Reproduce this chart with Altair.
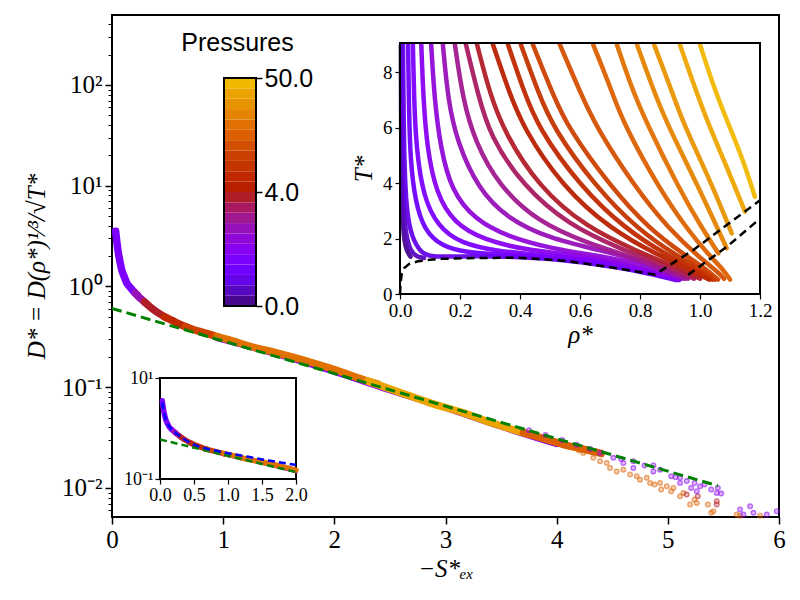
import altair as alt
import pandas as pd

SERIF = "Liberation Serif"
SANS = "Liberation Sans"

# ---------------- colour bands of the pressure colour bar (bottom -> top) -------------
BAND_COLORS = ["#4a0890", "#5808c0", "#6404e8", "#7000ff", "#7c00ff", "#8800f0",
               "#9008d8", "#9810b8", "#a01890", "#a81a60", "#b01e28", "#b82000",
               "#c02800", "#c43400", "#cc4000", "#d45000", "#dc6000", "#e07000",
               "#e48400", "#e89400", "#eca400", "#f0b800"]
BANDS = list(range(len(BAND_COLORS)))
CBAR_TICK_POS = [0, 11, 22]
CBAR_TICK_LABELS = ["0.0", "4.0", "50.0"]

# ---------------- main panel: master curve, drawn in coloured pieces -----------------
SEG_A_X = [0.033, 0.045, 0.057, 0.07, 0.087, 0.11, 0.132, 0.16, 0.192, 0.23]
SEG_A_Y = [3.54, 2.7, 2.16, 1.8, 1.47, 1.25, 1.09, 0.99, 0.90, 0.82]
SEG_B_X = [0.21, 0.24, 0.267, 0.30]
SEG_B_Y = [0.86, 0.79, 0.743, 0.69]
SEG_C_X = [0.29, 0.33, 0.372, 0.43, 0.492]
SEG_C_Y = [0.705, 0.645, 0.591, 0.535, 0.489]
SEG_D_X = [0.47, 0.55, 0.612, 0.68]
SEG_D_Y = [0.50, 0.455, 0.42, 0.39]
SEG_E_X = [0.66, 0.731, 0.81, 0.881, 0.96]
SEG_E_Y = [0.40, 0.374, 0.353, 0.334, 0.313]
SEG_F_X = [0.94, 1.061, 1.241, 1.481, 1.78, 2.0, 2.26, 2.4]
SEG_F_Y = [0.318, 0.293, 0.255, 0.219, 0.178, 0.15, 0.119, 0.107]
SEG_G_X = [2.3, 2.56, 2.86, 3.16, 3.46, 3.76]
SEG_G_Y = [0.115, 0.0912, 0.070, 0.0557, 0.0426, 0.0339]
SEG_H_X = [3.7, 3.9, 4.06, 4.25, 4.4]
SEG_H_Y = [0.0355, 0.0305, 0.027, 0.0242, 0.022]
EDGE_X = [0.95, 1.5, 2.0, 2.5, 3.0, 3.5, 4.0]
EDGE_Y = [0.305, 0.209, 0.142, 0.093, 0.0625, 0.0405, 0.0272]
SEGMENTS = [("A", 4, SEG_A_X, SEG_A_Y), ("B", 7, SEG_B_X, SEG_B_Y),
            ("C", 10, SEG_C_X, SEG_C_Y), ("D", 12, SEG_D_X, SEG_D_Y),
            ("E", 14, SEG_E_X, SEG_E_Y), ("F", 17, SEG_F_X, SEG_F_Y),
            ("G", 20, SEG_G_X, SEG_G_Y), ("H", 16, SEG_H_X, SEG_H_Y)]

# scattered tail points
TAIL_PURPLE_X = [3.75, 3.9, 4.05, 4.18, 4.30, 4.39, 4.51, 4.58, 4.60, 4.69, 4.69, 4.79,
                 4.87, 4.87, 4.93, 5.03, 5.07, 5.11, 5.11, 5.17, 5.21, 5.24, 5.26, 5.29,
                 5.33, 5.39, 5.44, 5.45, 5.48, 5.65, 5.68, 5.74, 5.77, 5.89, 5.98]
TAIL_PURPLE_Y = [0.0375, 0.0335, 0.0300, 0.0268, 0.0244, 0.0223, 0.0199, 0.0194, 0.0177,
                 0.0184, 0.0158, 0.0167, 0.0146, 0.0167, 0.0152, 0.0131, 0.0128, 0.0126,
                 0.0112, 0.0117, 0.0100, 0.0112, 0.00927, 0.0104, 0.0108, 0.00964,
                 0.00893, 0.0100, 0.00879, 0.00611, 0.00544, 0.00658, 0.00566, 0.00544,
                 0.00587]
TAIL_RED_X = [5.17, 5.27, 5.44, 5.44]
TAIL_RED_Y = [0.00859, 0.00828, 0.00738, 0.00685]
TAIL_ORANGE_X = [3.95, 4.05, 4.12, 4.2, 4.24, 4.33, 4.39, 4.45, 4.48, 4.54, 4.60, 4.66,
                 4.72, 4.75, 4.81, 4.84, 4.88, 4.93, 4.94, 4.99, 5.03, 5.05, 5.11, 5.14,
                 5.20, 5.24, 5.26, 5.36, 5.41, 5.39, 5.62, 5.65, 5.83]
TAIL_ORANGE_Y = [0.0295, 0.027, 0.0255, 0.0235, 0.0223, 0.0199, 0.0184, 0.0177, 0.0158,
                 0.0146, 0.0152, 0.0136, 0.0131, 0.0121, 0.0126, 0.0112, 0.0108, 0.0112,
                 0.00964, 0.0104, 0.00927, 0.0100, 0.00828, 0.00893, 0.00685, 0.00767,
                 0.00711, 0.00685, 0.00587, 0.00566, 0.00544, 0.0053, 0.0053]

GREEN_X = [0.0, 5.45]
GREEN_Y = [0.605, 0.0105]
GREEN_BL_X = [0.0, 2.0]
GREEN_BL_Y = [0.605, 0.137]
BLUE_X = [0.035, 0.06, 0.1, 0.16, 0.25, 0.35, 0.47, 0.6, 0.8, 1.0, 1.3, 1.6, 2.0]
BLUE_Y = [3.3, 2.05, 1.35, 1.0, 0.78, 0.62, 0.5, 0.43, 0.37, 0.325, 0.275, 0.232, 0.19]

# ---------------- top-right inset: isobars T*(rho*) -----------------------------------
ISO_00_R = [0.003, 0.0035, 0.005, 0.008, 0.013, 0.022, 0.035]
ISO_00_T = [9.0, 6.5, 4.2, 2.8, 2.0, 1.55, 1.35]
ISO_01_R = [0.006, 0.007, 0.009, 0.013, 0.02, 0.035, 0.055, 0.08]
ISO_01_T = [9.0, 6.5, 4.5, 3.0, 2.1, 1.55, 1.35, 1.3]
ISO_02_R = [0.010, 0.012, 0.015, 0.022, 0.038, 0.07, 0.104, 0.2, 0.35, 0.5, 0.65, 0.8, 0.92]
ISO_02_T = [9.0, 6.5, 4.5, 3.0, 2.07, 1.47, 1.34, 1.36, 1.36, 1.28, 1.08, 0.82, 0.5]
ISO_03_R = [0.027, 0.03, 0.035, 0.05, 0.08, 0.14, 0.22, 0.33, 0.5, 0.65, 0.8, 0.92]
ISO_03_T = [9.0, 6.5, 4.8, 3.39, 2.31, 1.71, 1.5, 1.42, 1.33, 1.15, 0.88, 0.52]
ISO_04_R = [0.043, 0.047, 0.054, 0.077, 0.127, 0.2, 0.33, 0.46, 0.6, 0.75, 0.93]
ISO_04_T = [9.0, 7.0, 5.3, 3.51, 2.43, 1.83, 1.53, 1.42, 1.28, 1.05, 0.5]
ISO_05_R = [0.071, 0.078, 0.09, 0.12, 0.18, 0.28, 0.42, 0.57, 0.72, 0.93]
ISO_05_T = [9.0, 7.0, 5.3, 3.64, 2.55, 1.95, 1.59, 1.42, 1.18, 0.52]
ISO_06_R = [0.104, 0.115, 0.135, 0.17, 0.25, 0.36, 0.5, 0.66, 0.8, 0.94]
ISO_06_T = [9.0, 7.0, 5.3, 3.75, 2.67, 2.07, 1.65, 1.38, 1.1, 0.55]
ISO_07_R = [0.143, 0.16, 0.19, 0.26, 0.36, 0.5, 0.66, 0.82, 0.95]
ISO_07_T = [9.0, 7.0, 5.5, 3.8, 2.7, 2.0, 1.6, 1.15, 0.55]
ISO_08_R = [0.183, 0.21, 0.25, 0.33, 0.46, 0.62, 0.8, 0.96]
ISO_08_T = [9.0, 7.0, 5.5, 3.9, 2.6, 1.85, 1.25, 0.55]
ISO_09_R = [0.22, 0.26, 0.30, 0.41, 0.56, 0.74, 0.88, 0.98]
ISO_09_T = [9.0, 7.2, 5.7, 3.9, 2.5, 1.6, 1.05, 0.55]
ISO_10_R = [0.257, 0.30, 0.35, 0.46, 0.62, 0.8, 0.92, 1.0]
ISO_10_T = [9.0, 7.2, 5.8, 3.9, 2.4, 1.5, 0.98, 0.55]
ISO_11_R = [0.31, 0.36, 0.41, 0.54, 0.70, 0.86, 0.96, 1.03]
ISO_11_T = [9.0, 7.4, 6.0, 3.9, 2.35, 1.4, 0.92, 0.52]
ISO_12_R = [0.36, 0.41, 0.46, 0.6, 0.75, 0.89, 0.98, 1.04]
ISO_12_T = [9.0, 7.4, 6.0, 3.9, 2.35, 1.4, 0.92, 0.52]
ISO_13_R = [0.403, 0.46, 0.51, 0.65, 0.79, 0.92, 1.0, 1.05]
ISO_13_T = [9.0, 7.3, 6.0, 3.9, 2.35, 1.4, 0.9, 0.52]
ISO_14_R = [0.443, 0.51, 0.56, 0.70, 0.83, 0.95, 1.02, 1.06]
ISO_14_T = [9.0, 7.2, 6.0, 3.9, 2.35, 1.4, 0.9, 0.52]
ISO_15_R = [0.533, 0.6, 0.65, 0.78, 0.9, 1.0, 1.06, 1.08]
ISO_15_T = [9.0, 7.3, 6.1, 3.9, 2.3, 1.3, 0.8, 0.55]
ISO_16_R = [0.644, 0.7, 0.744, 0.867, 0.96, 1.03, 1.08, 1.10]
ISO_16_T = [9.0, 7.5, 6.16, 3.75, 2.3, 1.4, 0.85, 0.52]
ISO_17_R = [0.723, 0.77, 0.822, 0.933, 1.0, 1.061]
ISO_17_T = [9.0, 7.5, 6.16, 3.75, 2.5, 1.47]
ISO_18_R = [0.79, 0.84, 0.889, 0.989, 1.089]
ISO_18_T = [9.0, 7.5, 6.16, 4.0, 1.65]
ISO_19_R = [0.847, 0.9, 0.944, 1.033, 1.106]
ISO_19_T = [9.0, 7.5, 6.16, 4.12, 2.19]
ISO_20_R = [0.933, 0.978, 1.022, 1.089, 1.15]
ISO_20_T = [9.0, 7.6, 6.28, 4.6, 2.97]
ISO_21_R = [1.0, 1.045, 1.089, 1.144, 1.183]
ISO_21_T = [9.0, 7.5, 6.28, 4.84, 3.51]
ISOBARS = [(ISO_00_R, ISO_00_T), (ISO_01_R, ISO_01_T), (ISO_02_R, ISO_02_T),
           (ISO_03_R, ISO_03_T), (ISO_04_R, ISO_04_T), (ISO_05_R, ISO_05_T),
           (ISO_06_R, ISO_06_T), (ISO_07_R, ISO_07_T), (ISO_08_R, ISO_08_T),
           (ISO_09_R, ISO_09_T), (ISO_10_R, ISO_10_T), (ISO_11_R, ISO_11_T),
           (ISO_12_R, ISO_12_T), (ISO_13_R, ISO_13_T), (ISO_14_R, ISO_14_T),
           (ISO_15_R, ISO_15_T), (ISO_16_R, ISO_16_T), (ISO_17_R, ISO_17_T),
           (ISO_18_R, ISO_18_T), (ISO_19_R, ISO_19_T), (ISO_20_R, ISO_20_T),
           (ISO_21_R, ISO_21_T)]

# phase boundaries (black dashed)
BOUND1_R = [0.0, 0.002, 0.006, 0.015, 0.03, 0.06, 0.1, 0.14, 0.25, 0.4, 0.55, 0.7, 0.85, 0.978, 1.2]
BOUND1_T = [0.0, 0.4, 0.75, 0.95, 1.08, 1.18, 1.24, 1.27, 1.3, 1.31, 1.2, 0.97, 0.7, 1.59, 3.38]
BOUND2_R = [0.96, 1.09, 1.2]
BOUND2_T = [0.69, 1.71, 2.72]

# ---------------- axis tick arrays -----------------------------------------------------
MAIN_X_TICKS = [0, 1, 2, 3, 4, 5, 6]
MAIN_Y_TICKS = [0.01, 0.1, 1, 10, 100]
MAIN_Y_LABELS = ["10⁻²", "10⁻¹", "10⁰", "10¹", "10²"]
MAIN_Y_MINOR = [m * 10.0 ** k for k in range(-3, 3) for m in range(2, 10)
                if 0.00515 <= m * 10.0 ** k <= 495]
TR_X_TICKS = [0.0, 0.2, 0.4, 0.6, 0.8, 1.0, 1.2]
TR_Y_TICKS = [0, 2, 4, 6, 8]
BL_X_TICKS = [0.0, 0.5, 1.0, 1.5, 2.0]
BL_Y_TICKS = [0.1, 10]
BL_Y_LABELS = ["10⁻¹", "10¹"]

# ---------------- geometry ------------------------------------------------------------
W, H = 667, 502
MAIN_XD, MAIN_XR = [0, 6], [0, W]
MAIN_YD, MAIN_YR = [0.00515, 495], [H, 0]
TR_XD, TR_XR = [0, 1.2], [288, 648]
TR_YD, TR_YR = [0, 9.06], [279, 28]
BL_XD, BL_XR = [0, 2], [48, 184]
BL_YD, BL_YR = [0.1, 10], [464, 363]
CB_XD, CB_XR = [0, 1], [112, 144]
CB_YD, CB_YR = [0, 22], [291, 63]


def sc(domain, rng, typ="linear"):
    return alt.Scale(type=typ, domain=domain, range=rng, nice=False, zero=False)


def label_expr(values, labels):
    expr = "''"
    for v, l in zip(values, labels):
        expr = f"datum.value == {v} ? '{l}' : ({expr})"
    return expr


COLOR = alt.Color("band:O", scale=alt.Scale(domain=BANDS, range=BAND_COLORS), legend=None)

# ---------------- data frames ----------------------------------------------------------
seg_rows = []
for name, band, xs, ys in SEGMENTS:
    for x, y in zip(xs, ys):
        seg_rows.append({"seg": name, "band": band, "x": x, "y": y})
seg_df = pd.DataFrame(seg_rows)
edge_df = pd.DataFrame({"x": EDGE_X, "y": EDGE_Y, "band": 5, "seg": "edge"})

tail_df = pd.concat([
    pd.DataFrame({"x": TAIL_ORANGE_X, "y": TAIL_ORANGE_Y, "band": 16}),
    pd.DataFrame({"x": TAIL_RED_X, "y": TAIL_RED_Y, "band": 10}),
    pd.DataFrame({"x": TAIL_PURPLE_X, "y": TAIL_PURPLE_Y, "band": 5}),
])
green_df = pd.DataFrame({"x": GREEN_X, "y": GREEN_Y})
green_bl_df = pd.DataFrame({"x": GREEN_BL_X, "y": GREEN_BL_Y})
blue_df = pd.DataFrame({"x": BLUE_X, "y": BLUE_Y})

iso_rows = []
for i, (rs, ts) in enumerate(ISOBARS):
    for r, t in zip(rs, ts):
        iso_rows.append({"iso": i, "band": i, "rho": r, "T": t})
iso_df = pd.DataFrame(iso_rows)
bound_df = pd.concat([
    pd.DataFrame({"rho": BOUND1_R, "T": BOUND1_T, "b": 1}),
    pd.DataFrame({"rho": BOUND2_R, "T": BOUND2_T, "b": 2}),
])

cbar_df = pd.DataFrame({"band": BANDS, "y0": BANDS, "y1": [b + 1 for b in BANDS],
                        "x0": CB_XD[0], "x1": CB_XD[1]})
frame_cb = pd.DataFrame({"x0": [CB_XD[0]], "x1": [CB_XD[1]], "y0": [CB_YD[0]], "y1": [CB_YD[1]]})
frame_tr = pd.DataFrame({"x0": [TR_XD[0]], "x1": [TR_XD[1]], "y0": [TR_YD[0]], "y1": [TR_YD[1]]})
frame_bl = pd.DataFrame({"x0": [BL_XD[0]], "x1": [BL_XD[1]], "y0": [BL_YD[0]], "y1": [BL_YD[1]]})

# ---------------- axes -----------------------------------------------------------------
main_x_axis = alt.Axis(orient="bottom", values=MAIN_X_TICKS, format="d", tickSize=7,
                       tickWidth=1.5, labelFont=SERIF, labelFontSize=25, labelPadding=3,
                       title="−S*ₑₓ", titleFont=SERIF, titleFontSize=25,
                       titleFontStyle="italic", titlePadding=4)
main_y_axis = alt.Axis(orient="left", values=MAIN_Y_TICKS,
                       labelExpr=label_expr(MAIN_Y_TICKS, MAIN_Y_LABELS), tickSize=7,
                       tickWidth=1.5, labelFont=SERIF, labelFontSize=25, labelPadding=3,
                       title="D* = D(ρ*)¹⁄³/√T*", titleFont=SERIF, titleFontSize=25,
                       titleFontStyle="italic", titlePadding=12)
main_y_minor = alt.Axis(orient="left", values=MAIN_Y_MINOR, labels=False, tickSize=4,
                        tickWidth=1, title=None)

# ---------------- main panel layers ----------------------------------------------------
edge_main = alt.Chart(edge_df).mark_line(strokeWidth=6, strokeCap="round",
                                         interpolate="monotone").encode(
    x=alt.X("x:Q", scale=sc(MAIN_XD, MAIN_XR), axis=None),
    y=alt.Y("y:Q", scale=sc(MAIN_YD, MAIN_YR, "log"), axis=None),
    color=COLOR)

seg_main = alt.Chart(seg_df).mark_line(strokeWidth=7.5, strokeCap="round",
                                       interpolate="monotone").encode(
    x=alt.X("x:Q", scale=sc(MAIN_XD, MAIN_XR), axis=main_x_axis),
    y=alt.Y("y:Q", scale=sc(MAIN_YD, MAIN_YR, "log"), axis=main_y_axis),
    color=COLOR, detail="seg:N")

tail_main = alt.Chart(tail_df).mark_circle(size=22, fillOpacity=0.3, strokeOpacity=0.55,
                                           strokeWidth=1.3).encode(
    x=alt.X("x:Q", scale=sc(MAIN_XD, MAIN_XR), axis=None),
    y=alt.Y("y:Q", scale=sc(MAIN_YD, MAIN_YR, "log"), axis=None),
    fill=alt.Fill("band:O", scale=alt.Scale(domain=BANDS, range=BAND_COLORS), legend=None),
    stroke=alt.Stroke("band:O", scale=alt.Scale(domain=BANDS, range=BAND_COLORS), legend=None))

green_main = alt.Chart(green_df).mark_line(color="#008000", strokeWidth=3,
                                           strokeDash=[10, 5]).encode(
    x=alt.X("x:Q", scale=sc(MAIN_XD, MAIN_XR), axis=None),
    y=alt.Y("y:Q", scale=sc(MAIN_YD, MAIN_YR, "log"), axis=main_y_minor))

# ---------------- bottom-left inset ------------------------------------------------------
bl_x_axis = alt.Axis(orient="bottom", offset=-(H - BL_YR[0]), values=BL_X_TICKS,
                     format=".1f", tickSize=5, tickWidth=1.2, labelFont=SERIF,
                     labelFontSize=18, labelPadding=2, title=None)
bl_y_axis = alt.Axis(orient="left", offset=-BL_XR[0], values=BL_Y_TICKS,
                     labelExpr=label_expr(BL_Y_TICKS, BL_Y_LABELS), tickSize=5,
                     tickWidth=1.2, labelFont=SERIF, labelFontSize=18, labelPadding=2,
                     title=None)

bl_frame = alt.Chart(frame_bl).mark_rect(fill="white", stroke="black", strokeWidth=2).encode(
    x=alt.X("x0:Q", scale=sc(BL_XD, BL_XR), axis=bl_x_axis), x2="x1:Q",
    y=alt.Y("y0:Q", scale=sc(BL_YD, BL_YR, "log"), axis=bl_y_axis), y2="y1:Q")

edge_bl = alt.Chart(edge_df[edge_df.x <= 2.0]).mark_line(
    strokeWidth=4, strokeCap="round", interpolate="monotone").encode(
    x=alt.X("x:Q", scale=sc(BL_XD, BL_XR), axis=None),
    y=alt.Y("y:Q", scale=sc(BL_YD, BL_YR, "log"), axis=None),
    color=COLOR)

seg_bl = alt.Chart(seg_df[seg_df.x <= 2.0]).mark_line(
    strokeWidth=5.5, strokeCap="round", interpolate="monotone").encode(
    x=alt.X("x:Q", scale=sc(BL_XD, BL_XR), axis=None),
    y=alt.Y("y:Q", scale=sc(BL_YD, BL_YR, "log"), axis=None),
    color=COLOR, detail="seg:N")

green_bl = alt.Chart(green_bl_df).mark_line(
    color="#008000", strokeWidth=2.5, strokeDash=[7, 4]).encode(
    x=alt.X("x:Q", scale=sc(BL_XD, BL_XR), axis=None),
    y=alt.Y("y:Q", scale=sc(BL_YD, BL_YR, "log"), axis=None))

blue_bl = alt.Chart(blue_df).mark_line(color="#0000ff", strokeWidth=2.5, strokeDash=[7, 4],
                                       interpolate="monotone").encode(
    x=alt.X("x:Q", scale=sc(BL_XD, BL_XR), axis=None),
    y=alt.Y("y:Q", scale=sc(BL_YD, BL_YR, "log"), axis=None))

# ---------------- top-right inset ------------------------------------------------------
tr_x_axis = alt.Axis(orient="bottom", offset=-(H - TR_YR[0]), values=TR_X_TICKS,
                     format=".1f", tickSize=5, tickWidth=1.2, labelFont=SERIF,
                     labelFontSize=19, labelPadding=2, title="ρ*", titleFont=SERIF,
                     titleFontSize=25, titleFontStyle="italic", titlePadding=2)
tr_y_axis = alt.Axis(orient="left", offset=-TR_XR[0], values=TR_Y_TICKS, format="d",
                     tickSize=5, tickWidth=1.2, labelFont=SERIF, labelFontSize=19,
                     labelPadding=3, title="T*", titleFont=SERIF, titleFontSize=25,
                     titleFontStyle="italic", titlePadding=6)

tr_frame = alt.Chart(frame_tr).mark_rect(fill="white", stroke="black", strokeWidth=2).encode(
    x=alt.X("x0:Q", scale=sc(TR_XD, TR_XR), axis=tr_x_axis), x2="x1:Q",
    y=alt.Y("y0:Q", scale=sc(TR_YD, TR_YR), axis=tr_y_axis), y2="y1:Q")

iso_tr = alt.Chart(iso_df).mark_line(strokeWidth=4.5, strokeCap="round",
                                     interpolate="basis", opacity=0.95).encode(
    x=alt.X("rho:Q", scale=sc(TR_XD, TR_XR), axis=None),
    y=alt.Y("T:Q", scale=sc(TR_YD, TR_YR), axis=None),
    color=COLOR, detail="iso:N")

bound_tr = alt.Chart(bound_df).mark_line(color="black", strokeWidth=2.5,
                                         strokeDash=[8, 5]).encode(
    x=alt.X("rho:Q", scale=sc(TR_XD, TR_XR), axis=None),
    y=alt.Y("T:Q", scale=sc(TR_YD, TR_YR), axis=None),
    detail="b:N", order="rho:Q")

tr_border = alt.Chart(frame_tr).mark_rect(fillOpacity=0, stroke="black", strokeWidth=2).encode(
    x=alt.X("x0:Q", scale=sc(TR_XD, TR_XR), axis=None), x2="x1:Q",
    y=alt.Y("y0:Q", scale=sc(TR_YD, TR_YR), axis=None), y2="y1:Q")

# ---------------- colour bar -----------------------------------------------------------
cb_axis = alt.Axis(orient="right", offset=-(W - CB_XR[1]), values=CBAR_TICK_POS,
                   labelExpr=label_expr(CBAR_TICK_POS, CBAR_TICK_LABELS), tickSize=6,
                   tickWidth=1.5, labelFont=SANS, labelFontSize=25, labelPadding=2,
                   title="Pressures", titleFont=SANS, titleFontSize=25,
                   titleAngle=0, titleAlign="center",
                   titleBaseline="middle", titleX=125 - CB_XR[1], titleY=27)

cb_bands = alt.Chart(cbar_df).mark_rect().encode(
    x=alt.X("x0:Q", scale=sc(CB_XD, CB_XR), axis=None), x2="x1:Q",
    y=alt.Y("y0:Q", scale=sc(CB_YD, CB_YR), axis=cb_axis), y2="y1:Q",
    color=COLOR)

cb_frame = alt.Chart(frame_cb).mark_rect(fillOpacity=0, stroke="black", strokeWidth=2).encode(
    x=alt.X("x0:Q", scale=sc(CB_XD, CB_XR), axis=None), x2="x1:Q",
    y=alt.Y("y0:Q", scale=sc(CB_YD, CB_YR), axis=None), y2="y1:Q")

chart = alt.layer(
    edge_main, seg_main, tail_main, green_main,
    bl_frame, edge_bl, seg_bl, green_bl, blue_bl,
    tr_frame, iso_tr, bound_tr, tr_border,
    cb_bands, cb_frame,
).resolve_scale(
    x="independent", y="independent", color="independent", fill="independent",
    stroke="independent",
).properties(
    width=W, height=H,
    autosize=alt.AutoSizeParams(type="none"),
    padding={"left": 104, "top": 7, "right": 13, "bottom": 75},
).configure_view(
    stroke="black", strokeWidth=2,
).configure_axis(
    grid=False, domain=False, tickColor="black", labelColor="black", titleColor="black",
    titleFontWeight="normal", labelFlush=False, labelOverlap=False,
)

chart.save("out.html", embed_options={"renderer": "svg", "actions": False})
